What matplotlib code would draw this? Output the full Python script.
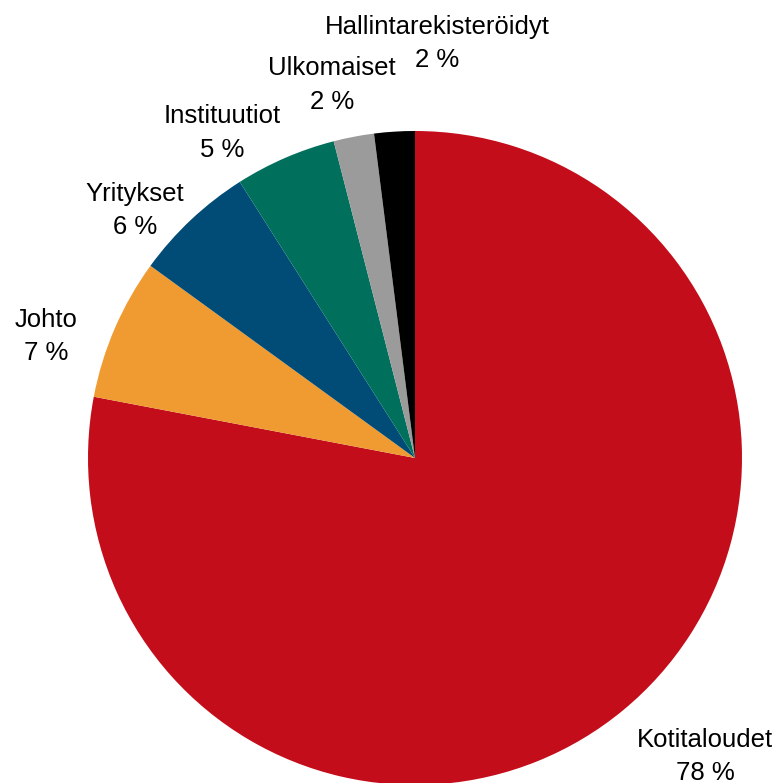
import matplotlib
matplotlib.use("Agg")
import matplotlib.pyplot as plt

# share of holdings by owner group
groups = ["Kotitaloudet", "Johto", "Yritykset", "Instituutiot", "Ulkomaiset", "Hallintarekisteröidyt"]
shares = [78, 7, 6, 5, 2, 2]
colors = ["#C40D1A", "#EF9B31", "#004C77", "#00705C", "#9B9B9B", "#000000"]

# label block centres (pie radius = 1)
label_xy = [(0.887, -0.913), (-1.128, 0.372), (-0.856, 0.757),
            (-0.590, 0.994), (-0.254, 1.141), (0.067, 1.268)]

plt.rcParams['font.family'] = ['Liberation Sans', 'DejaVu Sans']

fig = plt.figure(figsize=(7.77, 7.83), dpi=100)
ax = fig.add_axes([0, 0, 1, 1])

ax.pie(shares, colors=colors, startangle=90, counterclock=False, radius=1,
       wedgeprops=dict(linewidth=0))

for name, val, (x, y) in zip(groups, shares, label_xy):
    ax.text(x, y, f"{name}\n{val} %", ha="center", va="center",
            fontsize=18.5, linespacing=1.5)

ax.set_xlim(-415 / 327, 362 / 327)
ax.set_ylim(-325 / 327, 458 / 327)
ax.set_aspect("equal")
ax.axis("off")

fig.savefig("out.png", dpi=100)
